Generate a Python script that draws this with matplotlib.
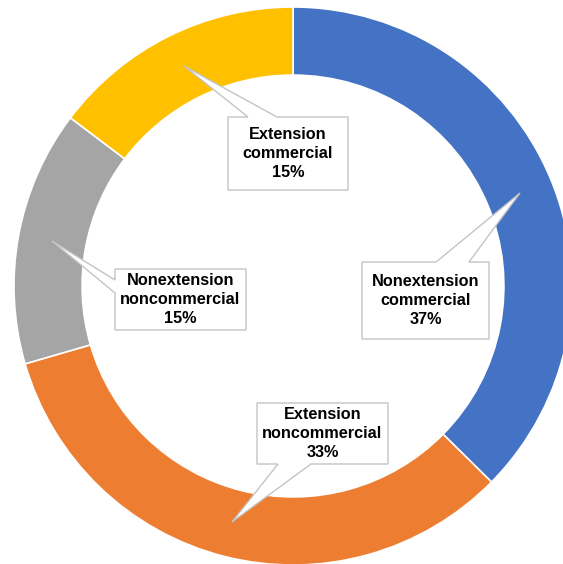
import matplotlib
matplotlib.use("Agg")
import matplotlib.pyplot as plt
from matplotlib.patches import Polygon

# data (clockwise from 12 o'clock)
categories = ["Nonextension\ncommercial", "Extension\nnoncommercial",
              "Nonextension\nnoncommercial", "Extension\ncommercial"]
shares = [37.4, 33.1, 14.8, 14.7]
colors = ["#4472C4", "#ED7D31", "#A5A5A5", "#FFC000"]

# ring geometry in pixels of the original picture
CX, CY, R = 293, 286, 279


def px(x, y):
    return ((x - CX) / R, (CY - y) / R)


# callout layout: box (x0, y0, x1, y1), side of pointer, base span, tip (pixels)
callouts = [
    ((362, 262, 489, 339), "top", (436, 469), (520, 193)),
    ((257, 403, 388, 464), "bottom", (278, 311), (232, 522)),
    ((115, 269, 246, 330), "left", (280, 293), (52, 241)),
    ((228, 117, 348, 190), "top", (248, 277), (184, 66)),
]


def callout_shape(box, side, base, tip):
    x0, y0, x1, y1 = box
    a, b = base
    pts = [(x0, y0)]
    if side == "top":
        pts += [(a, y0), tip, (b, y0)]
    pts += [(x1, y0), (x1, y1)]
    if side == "bottom":
        pts += [(b, y1), tip, (a, y1)]
    pts += [(x0, y1)]
    if side == "left":
        pts += [(x0, b), tip, (x0, a)]
    return [px(*p) for p in pts]


fig = plt.figure(figsize=(5.63, 5.64), dpi=100)
ax = fig.add_axes([0, 0, 1, 1])

ax.pie(shares, colors=colors, startangle=90, counterclock=False, radius=1,
       wedgeprops=dict(width=0.244, edgecolor="white", linewidth=1.2))

for (box, side, base, tip), name, val in zip(callouts, categories, shares):
    shape = Polygon(callout_shape(box, side, base, tip), closed=True,
                    facecolor="white", edgecolor="#C4C4C4", linewidth=1.0, zorder=5)
    ax.add_patch(shape)
    x0, y0, x1, y1 = box
    tx, ty = px((x0 + x1) / 2, (y0 + y1) / 2)
    ax.text(tx, ty, f"{name}\n{round(val)}%", ha="center", va="center",
            fontsize=11.7, fontweight="bold", family="Liberation Sans",
            color="black", linespacing=1.3, zorder=6)

ax.set_xlim(-CX / R, (563 - CX) / R)
ax.set_ylim((CY - 564) / R, CY / R)
ax.set_aspect("equal")
ax.axis("off")

fig.savefig("out.png", dpi=100)
